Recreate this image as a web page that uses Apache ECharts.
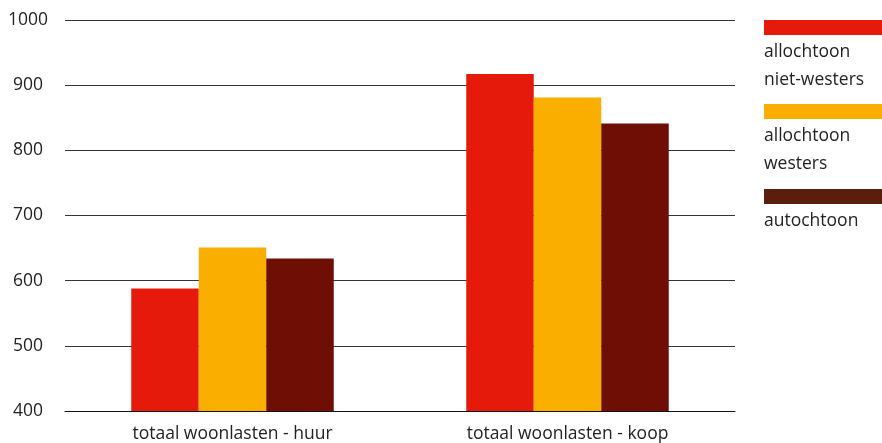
<!DOCTYPE html>
<html><head><meta charset="utf-8">
<script src="https://cdn.jsdelivr.net/npm/echarts@6/dist/echarts.min.js"></script>
<style>html,body{margin:0;padding:0;background:#fff}#c{width:882px;height:443px}</style>
</head><body><div id="c"></div>
<script>
var categories = ['totaal woonlasten - huur', 'totaal woonlasten - koop'];
var seriesNames = ['allochtoon\nniet-westers', 'allochtoon\nwesters', 'autochtoon'];
var nietWesters = [588, 917];
var westers = [651, 881];
var autochtoon = [634, 841];
var yTicks = [400, 500, 600, 700, 800, 900, 1000];
var barColors = ['#e61a0b', '#f9ae00', '#6e0e04'];
var legendColors = ['#e61a0b', '#f9ae00', '#5a1f0a'];
var FONT = '"Open Sans", sans-serif';
var FS = 17.5;

var chart = echarts.init(document.getElementById('c'));
var values = [nietWesters, westers, autochtoon];
var legendTop = [20, 104, 189];
var graphics = [];
seriesNames.forEach(function (n, i) {
  graphics.push({ type: 'rect', left: 764, top: legendTop[i], shape: { width: 118, height: 15 }, style: { fill: legendColors[i] } });
  graphics.push({ type: 'text', left: 764, top: legendTop[i] + 18, style: { text: n, font: FS + 'px ' + FONT, fill: '#222', lineHeight: 28 } });
});
chart.setOption({
  animation: false,
  textStyle: { fontFamily: FONT },
  grid: { left: 65, right: 147, top: 20, bottom: 31, containLabel: false },
  xAxis: {
    type: 'category', data: categories,
    axisLine: { lineStyle: { color: '#111', width: 1 } },
    axisTick: { show: false },
    axisLabel: { fontSize: FS, color: '#222', margin: 14, fontFamily: FONT }
  },
  yAxis: {
    type: 'value', min: yTicks[0], max: yTicks[yTicks.length - 1], interval: 100,
    axisLine: { show: false }, axisTick: { show: false },
    splitLine: { lineStyle: { color: '#333', width: 1 } },
    axisLabel: { fontSize: FS, color: '#222', align: 'center', margin: 37, fontFamily: FONT,
      formatter: function (v) { return String(v); } }
  },
  series: values.map(function (v, i) {
    return { type: 'bar', name: seriesNames[i], data: v, barWidth: 67.5, barGap: '0%',
      itemStyle: { color: barColors[i] } };
  }),
  graphic: graphics
});
</script></body></html>
